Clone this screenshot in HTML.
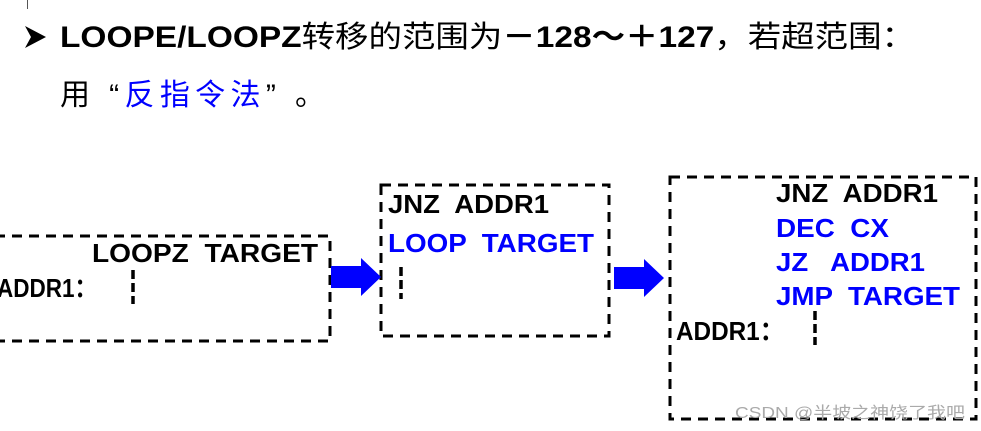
<!DOCTYPE html>
<html><head><meta charset="utf-8"><style>
html,body{margin:0;padding:0;background:#fff;width:981px;height:431px;overflow:hidden}
svg{display:block}
text{font-family:"Liberation Sans","Noto Sans CJK SC",sans-serif;font-weight:bold;white-space:pre}
</style></head><body>
<svg width="981" height="431" viewBox="0 0 981 431" xml:space="preserve">
<line x1="27.5" y1="0" x2="27.5" y2="9" stroke="#555" stroke-width="1"/>
<polygon points="25,26 46,37 25,48 31,37" fill="#000"/>
<text x="60" y="47" font-size="30" textLength="855" lengthAdjust="spacingAndGlyphs">LOOPE/LOOPZ<tspan font-weight="normal">转移的范围为</tspan>－128～＋127<tspan font-weight="normal">，若超范围：</tspan></text>
<text x="60" y="105" font-size="30" style="font-weight:normal" textLength="265" lengthAdjust="spacing">用 “<tspan fill="#0000ff">反指令法</tspan>” 。</text>
<g fill="none" stroke="#000" stroke-width="3" stroke-dasharray="10,7">
<rect x="-5" y="236" width="335" height="105"/>
<rect x="381" y="185" width="228" height="151"/>
<rect x="670" y="177" width="306" height="242"/>
</g>
<g stroke="#000" stroke-width="3.5" stroke-dasharray="9,4">
<line x1="133" y1="270" x2="133" y2="304"/>
<line x1="401" y1="267" x2="401" y2="299"/>
<line x1="815" y1="311" x2="815" y2="345"/>
</g>
<polygon points="331,266 361,266 361,258 381,277 361,296 361,288 331,288" fill="#0000ff"/>
<polygon points="614,267 644,267 644,259 664,278 644,297 644,289 614,289" fill="#0000ff"/>
<g font-size="26">
<text x="92" y="262" textLength="226" lengthAdjust="spacingAndGlyphs">LOOPZ  TARGET</text>
<text x="-3" y="297" textLength="100" lengthAdjust="spacingAndGlyphs">ADDR1：</text>
<text x="388" y="213" textLength="161" lengthAdjust="spacingAndGlyphs">JNZ  ADDR1</text>
<text x="388" y="252" fill="#0000ff" textLength="206" lengthAdjust="spacingAndGlyphs">LOOP  TARGET</text>
<text x="776" y="202" textLength="162" lengthAdjust="spacingAndGlyphs">JNZ  ADDR1</text>
<text x="776" y="237" fill="#0000ff" textLength="113" lengthAdjust="spacingAndGlyphs">DEC  CX</text>
<text x="776" y="271" fill="#0000ff" textLength="149" lengthAdjust="spacingAndGlyphs">JZ   ADDR1</text>
<text x="776" y="305" fill="#0000ff" textLength="184" lengthAdjust="spacingAndGlyphs">JMP  TARGET</text>
<text x="676" y="340" textLength="108" lengthAdjust="spacingAndGlyphs">ADDR1：</text>
</g>
<text x="735" y="418" font-size="16" fill="#aaa" style="font-weight:normal" textLength="230" lengthAdjust="spacingAndGlyphs">CSDN @半坡之神饶了我吧</text>
</svg>
</body></html>
